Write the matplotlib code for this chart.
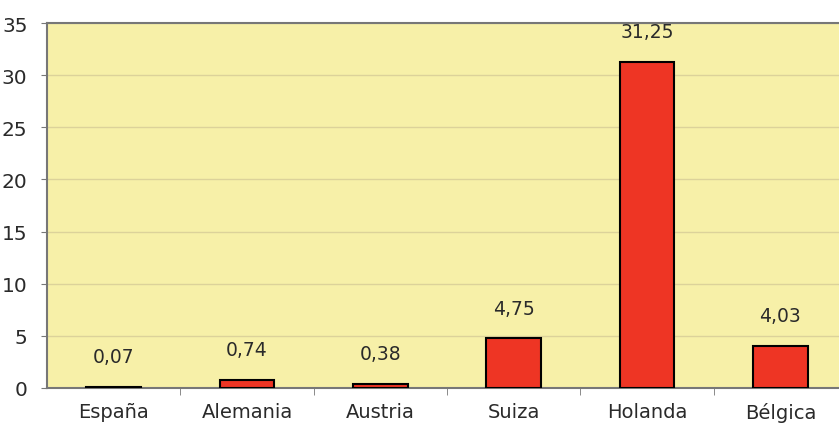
import numpy as np
import matplotlib.pyplot as plt

countries = ["España", "Alemania", "Austria", "Suiza", "Holanda", "Bélgica"]
values = [0.07, 0.74, 0.38, 4.75, 31.25, 4.03]
labels = ["0,07", "0,74", "0,38", "4,75", "31,25", "4,03"]

plt.rcParams['font.family'] = ['DejaVu Sans']

fig = plt.figure(figsize=(8.39, 4.27), dpi=100)
ax = fig.add_axes([47/839, 1 - 389/427, 800/839, 365/427])
ax.set_facecolor("#F7F0A8")

x = np.arange(len(countries))
bars = ax.bar(x, values, width=0.41, color="#EE3524", edgecolor="black", linewidth=1.5, zorder=3)

for xi, v, lab in zip(x, values, labels):
    ax.annotate(lab, (xi, v), xytext=(0, 15), textcoords="offset points",
                ha="center", va="bottom", fontsize=13.5, color="#2a2a2a")

ax.set_xlim(-0.5, len(countries) - 0.5)
ax.set_ylim(0, 35)
ax.set_yticks(range(0, 36, 5))
ax.set_xticks(x)
ax.set_xticklabels(countries)
ax.set_xticks(np.arange(0.5, len(countries) - 0.5, 1), minor=True)
ax.tick_params(axis="x", which="major", length=0, pad=10, labelsize=14, labelcolor="#2a2a2a")
ax.tick_params(axis="x", which="minor", length=5, color="#777777")
ax.tick_params(axis="y", length=4, pad=10, color="#777777", labelsize=14.5, labelcolor="#2a2a2a")

ax.grid(axis="y", color="#DCD29A", linewidth=1, zorder=0)
for s in ["left", "bottom", "top"]:
    ax.spines[s].set_color("#777777")
    ax.spines[s].set_linewidth(1.5)
ax.spines["right"].set_visible(False)

fig.savefig("out.png", dpi=100)
